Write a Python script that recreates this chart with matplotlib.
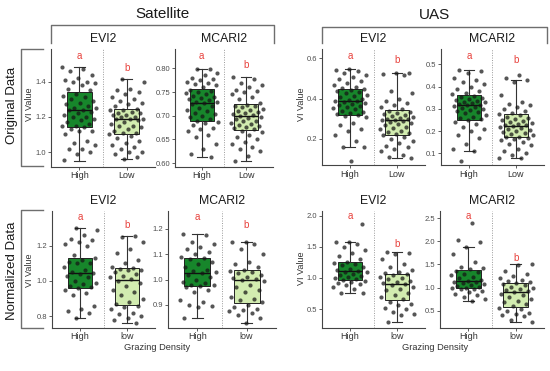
import numpy as np
import matplotlib.pyplot as plt

plt.rcParams['font.family'] = ['Liberation Sans', 'DejaVu Sans']

# ---- data ----
groups_orig = ['High', 'Low']
groups_norm = ['High', 'low']
letters = ['a', 'b']

# box stats: whisker low, q1, median, q3, whisker high
# Satellite EVI2 (original)
sat_evi2_high = [1.48, 1.47, 1.46, 1.44, 1.42, 1.41, 1.40, 1.40, 1.39, 1.38, 1.36, 1.35,
                 1.33, 1.32, 1.31, 1.30, 1.29, 1.28, 1.27, 1.26, 1.25, 1.25, 1.24, 1.24,
                 1.23, 1.22, 1.21, 1.20, 1.20, 1.19, 1.18, 1.17, 1.16, 1.15, 1.15, 1.14,
                 1.13, 1.12, 1.12, 1.10, 1.06, 1.05, 1.04, 1.02, 1.02, 1.00, 0.99, 0.955]
sat_evi2_low = [1.415, 1.40, 1.36, 1.35, 1.34, 1.33, 1.31, 1.30, 1.29, 1.28, 1.27, 1.26,
                1.245, 1.24, 1.24, 1.23, 1.22, 1.22, 1.21, 1.21, 1.20, 1.20, 1.19, 1.19,
                1.185, 1.18, 1.17, 1.16, 1.15, 1.15, 1.14, 1.13, 1.12, 1.11, 1.11, 1.10,
                1.09, 1.08, 1.06, 1.05, 1.04, 1.03, 1.02, 1.00, 1.00, 0.99, 0.97, 0.963]
sat_evi2_high_box = [0.952, 1.145, 1.237, 1.339, 1.484]
sat_evi2_low_box = [0.963, 1.100, 1.190, 1.247, 1.415]

# Satellite MCARI2 (original)
sat_mcari2_high = [0.799, 0.798, 0.790, 0.787, 0.780, 0.778, 0.775, 0.772, 0.770, 0.768, 0.765, 0.760,
                   0.755, 0.752, 0.750, 0.748, 0.745, 0.742, 0.740, 0.738, 0.735, 0.733, 0.730, 0.729,
                   0.727, 0.724, 0.720, 0.716, 0.712, 0.710, 0.706, 0.703, 0.700, 0.697, 0.693, 0.690,
                   0.686, 0.684, 0.680, 0.675, 0.672, 0.668, 0.660, 0.655, 0.640, 0.630, 0.620, 0.613]
sat_mcari2_low = [0.781, 0.778, 0.770, 0.765, 0.760, 0.755, 0.752, 0.750, 0.745, 0.740, 0.735, 0.728,
                  0.723, 0.721, 0.720, 0.718, 0.715, 0.712, 0.710, 0.708, 0.705, 0.703, 0.701, 0.700,
                  0.698, 0.696, 0.693, 0.690, 0.688, 0.685, 0.683, 0.680, 0.678, 0.676, 0.674, 0.672,
                  0.668, 0.665, 0.660, 0.655, 0.650, 0.645, 0.640, 0.635, 0.630, 0.625, 0.615, 0.604]
sat_mcari2_high_box = [0.613, 0.688, 0.728, 0.757, 0.799]
sat_mcari2_low_box = [0.604, 0.671, 0.699, 0.724, 0.781]

# UAS EVI2 (original)
uas_evi2_high = [0.546, 0.540, 0.535, 0.530, 0.520, 0.510, 0.500, 0.490, 0.480, 0.470, 0.460, 0.455,
                 0.448, 0.445, 0.440, 0.435, 0.430, 0.420, 0.415, 0.410, 0.400, 0.395, 0.390, 0.388,
                 0.385, 0.380, 0.375, 0.370, 0.365, 0.360, 0.355, 0.350, 0.340, 0.335, 0.330, 0.325,
                 0.320, 0.315, 0.310, 0.280, 0.270, 0.250, 0.240, 0.220, 0.190, 0.160, 0.158, 0.088]
uas_evi2_low = [0.529, 0.528, 0.525, 0.520, 0.440, 0.430, 0.400, 0.390, 0.380, 0.370, 0.360, 0.350,
                0.340, 0.335, 0.330, 0.325, 0.320, 0.315, 0.310, 0.305, 0.300, 0.298, 0.295, 0.293,
                0.290, 0.285, 0.280, 0.275, 0.270, 0.260, 0.255, 0.250, 0.240, 0.235, 0.230, 0.222,
                0.218, 0.210, 0.200, 0.190, 0.180, 0.165, 0.160, 0.150, 0.140, 0.120, 0.110, 0.103]
uas_evi2_high_box = [0.158, 0.320, 0.389, 0.450, 0.546]
uas_evi2_low_box = [0.103, 0.220, 0.292, 0.342, 0.529]

# UAS MCARI2 (original)
uas_mcari2_high = [0.474, 0.470, 0.460, 0.440, 0.430, 0.420, 0.410, 0.400, 0.390, 0.380, 0.370, 0.365,
                   0.358, 0.355, 0.350, 0.345, 0.340, 0.335, 0.330, 0.330, 0.325, 0.320, 0.318, 0.316,
                   0.312, 0.310, 0.305, 0.300, 0.295, 0.290, 0.285, 0.280, 0.270, 0.265, 0.260, 0.255,
                   0.248, 0.240, 0.230, 0.220, 0.210, 0.200, 0.180, 0.170, 0.140, 0.120, 0.112, 0.067]
uas_mcari2_low = [0.454, 0.440, 0.429, 0.420, 0.360, 0.330, 0.320, 0.315, 0.310, 0.300, 0.290, 0.280,
                  0.276, 0.270, 0.265, 0.260, 0.255, 0.250, 0.245, 0.240, 0.235, 0.230, 0.228, 0.225,
                  0.222, 0.220, 0.215, 0.210, 0.205, 0.200, 0.195, 0.190, 0.185, 0.180, 0.175, 0.172,
                  0.168, 0.165, 0.160, 0.150, 0.140, 0.135, 0.120, 0.110, 0.100, 0.090, 0.080, 0.078]
uas_mcari2_high_box = [0.112, 0.251, 0.315, 0.360, 0.474]
uas_mcari2_low_box = [0.078, 0.171, 0.224, 0.278, 0.429]

# Satellite EVI2 (normalized)
sat_evi2_n_high = [1.30, 1.29, 1.26, 1.24, 1.23, 1.22, 1.21, 1.20, 1.15,
                   1.13, 1.12, 1.11, 1.10, 1.10, 1.08, 1.06, 1.05,
                   1.045, 1.04, 1.03, 1.02, 1.00, 0.99, 0.98, 0.97, 0.965,
                   0.96, 0.95, 0.93, 0.92, 0.86, 0.84, 0.83, 0.82, 0.79]
sat_evi2_n_low = [1.257, 1.25, 1.22, 1.18, 1.16, 1.12, 1.10, 1.08, 1.075,
                  1.07, 1.065, 1.06, 1.05, 1.04, 1.03, 1.02, 1.01,
                  1.00, 0.99, 0.97, 0.95, 0.94, 0.92, 0.90, 0.88, 0.87,
                  0.86, 0.85, 0.84, 0.82, 0.81, 0.80, 0.79, 0.78, 0.762]
sat_evi2_n_high_box = [0.790, 0.962, 1.046, 1.132, 1.299]
sat_evi2_n_low_box = [0.762, 0.866, 1.008, 1.071, 1.257]

# Satellite MCARI2 (normalized)
sat_mcari2_n_high = [1.18, 1.178, 1.15, 1.14, 1.13, 1.12, 1.11, 1.10, 1.09,
                     1.085, 1.08, 1.07, 1.06, 1.05, 1.04, 1.035, 1.03,
                     1.025, 1.02, 1.01, 1.00, 0.99, 0.985, 0.98, 0.978, 0.975,
                     0.97, 0.96, 0.95, 0.92, 0.91, 0.90, 0.895, 0.89, 0.85]
sat_mcari2_n_low = [1.15, 1.148, 1.14, 1.12, 1.10, 1.07, 1.06, 1.05, 1.04,
                    1.035, 1.03, 1.025, 1.02, 1.01, 1.005, 1.003, 1.00,
                    0.995, 0.98, 0.97, 0.96, 0.95, 0.93, 0.925, 0.92, 0.91,
                    0.90, 0.89, 0.885, 0.88, 0.875, 0.87, 0.86, 0.85, 0.83]
sat_mcari2_n_high_box = [0.850, 0.974, 1.028, 1.086, 1.180]
sat_mcari2_n_low_box = [0.830, 0.907, 1.000, 1.037, 1.150]

# UAS EVI2 (normalized)
uas_evi2_n_high = [1.865, 1.58, 1.58, 1.55, 1.50, 1.45, 1.40, 1.35, 1.30,
                   1.25, 1.24, 1.22, 1.20, 1.18, 1.15, 1.13, 1.11,
                   1.10, 1.09, 1.07, 1.05, 1.03, 1.01, 1.00, 0.98, 0.97,
                   0.95, 0.93, 0.92, 0.90, 0.88, 0.85, 0.82, 0.76, 0.75]
uas_evi2_n_low = [1.41, 1.40, 1.39, 1.30, 1.22, 1.18, 1.12, 1.10, 1.08,
                  1.06, 1.05, 1.02, 1.00, 0.98, 0.95, 0.93, 0.92,
                  0.90, 0.88, 0.85, 0.82, 0.80, 0.75, 0.72, 0.70, 0.66,
                  0.62, 0.58, 0.56, 0.52, 0.50, 0.45, 0.42, 0.40, 0.285]
uas_evi2_n_high_box = [0.750, 0.965, 1.108, 1.262, 1.580]
uas_evi2_n_low_box = [0.285, 0.645, 0.910, 1.070, 1.410]

# UAS MCARI2 (normalized)
uas_mcari2_n_high = [2.40, 2.02, 1.98, 1.87, 1.72, 1.55, 1.45, 1.42, 1.40,
                     1.36, 1.33, 1.30, 1.27, 1.22, 1.20, 1.17, 1.15,
                     1.13, 1.12, 1.10, 1.08, 1.05, 1.03, 1.02, 1.00, 0.99,
                     0.98, 0.96, 0.93, 0.90, 0.87, 0.85, 0.80, 0.75, 0.72]
uas_mcari2_n_low = [1.50, 1.48, 1.35, 1.30, 1.26, 1.20, 1.17, 1.14, 1.12,
                    1.09, 1.08, 1.05, 1.02, 1.00, 0.97, 0.94, 0.92,
                    0.90, 0.87, 0.84, 0.80, 0.76, 0.72, 0.68, 0.64, 0.60,
                    0.56, 0.54, 0.50, 0.45, 0.42, 0.40, 0.38, 0.30, 0.245]
uas_mcari2_n_high_box = [0.720, 0.990, 1.140, 1.370, 1.870]
uas_mcari2_n_low_box = [0.245, 0.580, 0.905, 1.100, 1.500]

# ---- styling ----
HIGH_COL = '#17862b'
LOW_COL = '#d2ecb0'
LETTER_COL = '#e8413c'
LINE_COL = '#444444'
W, H = 550, 371

fig = plt.figure(figsize=(5.5, 3.71), dpi=100)

# overlay in pixel coordinates for headers and brackets
ov = fig.add_axes([0, 0, 1, 1])
ov.set_xlim(0, W)
ov.set_ylim(H, 0)
ov.axis('off')


def px_rect(left, top, right, bottom):
    return [left / W, 1 - bottom / H, (right - left) / W, (bottom - top) / H]


def jitter(n, seed):
    # deterministic spread (golden-ratio sequence), no randomness
    return ((np.arange(n) * 0.618034 + seed * 0.37) % 1 - 0.5) * 0.74


def draw_panel(rect, title, high, low, high_box, low_box, ylim, yticks, fmt, xlabels, pad, seed):
    ax = fig.add_axes(px_rect(*rect))
    stats = []
    for b in (high_box, low_box):
        stats.append(dict(whislo=b[0], q1=b[1], med=b[2], q3=b[3], whishi=b[4], fliers=[]))
    bp = ax.bxp(stats, positions=[1, 2], widths=0.53, patch_artist=True, showfliers=False,
                capwidths=0.22,
                boxprops=dict(edgecolor='#222222', linewidth=0.7),
                whiskerprops=dict(color='#333333', linewidth=0.8),
                capprops=dict(color='#333333', linewidth=0.8),
                medianprops=dict(color='#111111', linewidth=1.0))
    bp['boxes'][0].set_facecolor(HIGH_COL)
    bp['boxes'][1].set_facecolor(LOW_COL)

    for pos, vals, k in ((1, high, seed), (2, low, seed + 1)):
        vals = np.asarray(vals)
        ax.scatter(pos + jitter(len(vals), k), vals, s=9, color='#151515', alpha=0.72,
                   linewidths=0, zorder=3)
    for pos, vals, let in ((1, high, letters[0]), (2, low, letters[1])):
        ax.text(pos, max(vals) + pad, let, color=LETTER_COL, ha='center', va='center', fontsize=7)

    ax.axvline(1.5, color='#9a9a9a', ls=(0, (1, 1.5)), lw=0.7, zorder=1)
    ax.set_xlim(0.4, 2.6)
    ax.set_ylim(*ylim)
    ax.set_xticks([1, 2])
    ax.set_xticklabels(xlabels)
    ax.set_yticks(yticks)
    ax.set_yticklabels([fmt % t for t in yticks])
    for s in ('top', 'right'):
        ax.spines[s].set_visible(False)
    for s in ('left', 'bottom'):
        ax.spines[s].set_color(LINE_COL)
        ax.spines[s].set_linewidth(0.8)
    ax.tick_params(axis='both', length=2, width=0.6, color=LINE_COL, pad=1.5)
    ax.tick_params(axis='y', labelsize=5.5, labelcolor='#4d4d4d')
    ax.tick_params(axis='x', labelsize=6.5, labelcolor='#333333')
    ax.set_facecolor('none')

    left, top, right, bottom = rect
    ov.text((left + right) / 2, top - 10, title, ha='center', va='center', fontsize=8.8,
            color='#1a1a1a')
    return ax


draw_panel((51, 49, 155, 166.5), 'EVI2', sat_evi2_high, sat_evi2_low,
           sat_evi2_high_box, sat_evi2_low_box, (0.918, 1.585), [1.0, 1.2, 1.4], '%.1f',
           groups_orig, 0.064, 0)
draw_panel((175, 49, 273, 166.5), 'MCARI2', sat_mcari2_high, sat_mcari2_low,
           sat_mcari2_high_box, sat_mcari2_low_box, (0.593, 0.841),
           [0.60, 0.65, 0.70, 0.75, 0.80], '%.2f', groups_orig, 0.027, 2)
draw_panel((322, 49, 425, 165.5), 'EVI2', uas_evi2_high, uas_evi2_low,
           uas_evi2_high_box, uas_evi2_low_box, (0.067, 0.647), [0.2, 0.4, 0.6], '%.1f',
           groups_orig, 0.065, 4)
draw_panel((441, 49, 544, 165.5), 'MCARI2', uas_mcari2_high, uas_mcari2_low,
           uas_mcari2_high_box, uas_mcari2_low_box, (0.045, 0.569),
           [0.1, 0.2, 0.3, 0.4, 0.5], '%.1f', groups_orig, 0.065, 6)
draw_panel((52, 211, 155, 327.5), 'EVI2', sat_evi2_n_high, sat_evi2_n_low,
           sat_evi2_n_high_box, sat_evi2_n_low_box, (0.736, 1.397), [0.8, 1.0, 1.2], '%.1f',
           groups_norm, 0.062, 1)
draw_panel((168, 211, 276, 327.5), 'MCARI2', sat_mcari2_n_high, sat_mcari2_n_low,
           sat_mcari2_n_high_box, sat_mcari2_n_low_box, (0.811, 1.271),
           [0.9, 1.0, 1.1, 1.2], '%.1f', groups_norm, 0.066, 3)
draw_panel((322, 211, 425, 327.5), 'EVI2', uas_evi2_n_high, uas_evi2_n_low,
           uas_evi2_n_high_box, uas_evi2_n_low_box, (0.203, 2.076), [0.5, 1.0, 1.5, 2.0], '%.1f',
           groups_norm, 0.13, 5)
draw_panel((440, 211, 544, 327.5), 'MCARI2', uas_mcari2_n_high, uas_mcari2_n_low,
           uas_mcari2_n_high_box, uas_mcari2_n_low_box, (0.136, 2.658),
           [0.5, 1.0, 1.5, 2.0, 2.5], '%.1f', groups_norm, 0.14, 7)

# column headers with brackets
BR = '#6e6e6e'
for x0, x1, yb, label, ty in ((51, 274, 25, 'Satellite', 14), (322, 547, 27, 'UAS', 15)):
    ov.plot([x0, x0, x1, x1], [43, yb, yb, 43], color=BR, lw=1)
    ov.text((x0 + x1) / 2, ty, label, ha='center', va='center', fontsize=11, color='#1a1a1a')

# row headers with brackets
for y0, y1, label, ty in ((49, 166, 'Original Data', 105), (210, 328, 'Normalized Data', 271)):
    ov.plot([43, 21, 21, 43], [y0, y0, y1, y1], color=BR, lw=1)
    ov.text(12, ty, label, ha='center', va='center', rotation=90, fontsize=9.5, color='#1a1a1a')

# y-axis labels
for x, y in ((30, 104), (301, 104), (30, 270), (301, 268)):
    ov.text(x, y, 'VI Value', ha='center', va='center', rotation=90, fontsize=6.5, color='#333333')

# x-axis labels
for x in (157, 435):
    ov.text(x, 348, 'Grazing Density', ha='center', va='center', fontsize=6.7, color='#333333')

fig.savefig('out.png', dpi=100)
